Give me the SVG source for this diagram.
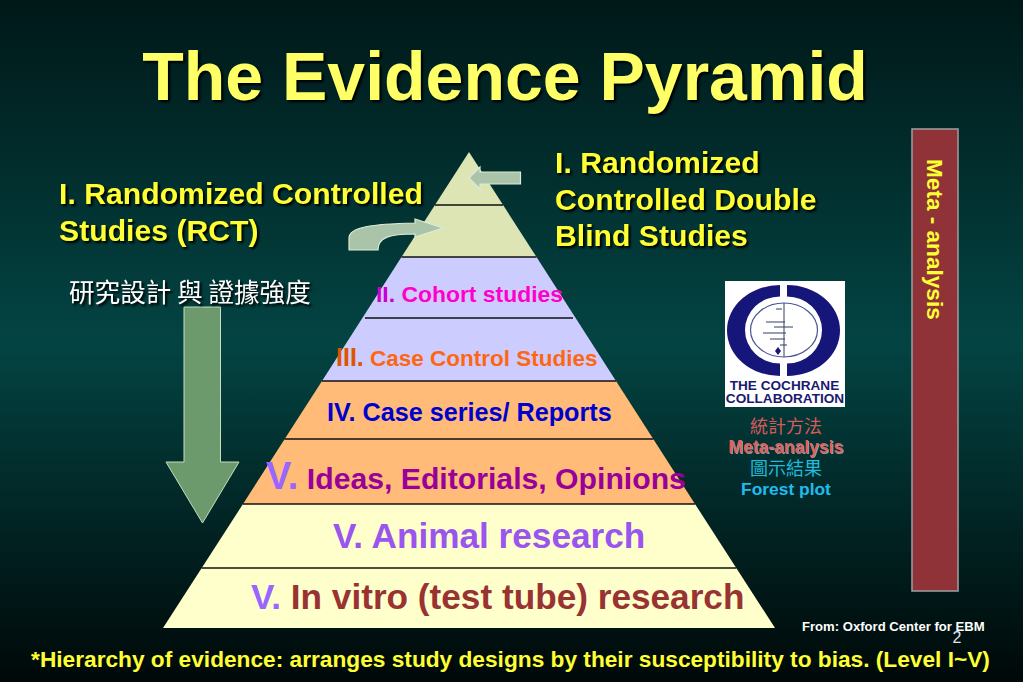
<svg xmlns="http://www.w3.org/2000/svg" width="1023" height="682" viewBox="0 0 1023 682">
<defs>
<linearGradient id="bg" x1="0" y1="0" x2="0" y2="1">
<stop offset="0" stop-color="#001818"/>
<stop offset="0.5" stop-color="#034443"/>
<stop offset="1" stop-color="#000808"/>
</linearGradient>
</defs>
<style>
text{font-family:"Liberation Sans",Arial,"Noto Sans CJK TC",sans-serif;font-weight:700}
.sh{filter:drop-shadow(2px 2px 1px #000)}
.y{fill:#ffff33}
.div{stroke:#111;stroke-width:1.3;fill:none}
.arr{fill:#a9c4a9;stroke:#dcebd8;stroke-width:1.2}
.cn{font-family:"Noto Sans CJK TC","Liberation Sans",sans-serif;font-weight:400}
</style>
<rect id="background" width="1023" height="682" fill="url(#bg)"/>
<g id="title"><text class="sh" x="505" y="100" font-size="68" fill="#ffff66" text-anchor="middle">The Evidence Pyramid</text></g>
<g id="pyramid">
<polygon id="tier-rct" points="469,152 401.5,257 536.5,257" fill="#dde5b4"/>
<polygon id="tier-cohort" points="401.5,257 536.5,257 616,381 322,381" fill="#ccccff"/>
<polygon id="tier-case" points="322,381 616,381 695,504 243,504" fill="#ffbb77"/>
<polygon id="tier-other" points="243,504 695,504 775,628 163,628" fill="#ffffcc"/>
</g>
<g id="connectors">
<path class="div" d="M435 205H503M401.5 257H536.5M365 318H573M322 381H616M284.500 439H653.500M243 504H695M201.500 568H736.500"/>
</g>
<g id="arrow-double-blind"><polygon class="arr" points="469,178 480,167 480,172 520.500,172 520.500,184 480,184 480,189"/></g>
<g id="arrow-rct"><path class="arr" d="M349 250V238C349 227 372 224 415 223V219L443 228L415 237V234C390 234 378 237 378 250Z"/></g>
<g id="arrow-strength"><polygon points="184,307 220.500,307 220.500,462 239,462 202.500,523 166,462 184,462" fill="#6d9a6d" stroke="#c8dcc0" stroke-width="1"/></g>
<g id="label-rct"><text class="y sh" font-size="30.200"><tspan x="59" y="204">I. Randomized Controlled</tspan><tspan x="59" y="241">Studies (RCT)</tspan></text></g>
<g id="label-double-blind"><text class="y sh" font-size="30.200"><tspan x="555" y="173">I. Randomized</tspan><tspan x="555" y="210">Controlled Double</tspan><tspan x="555" y="246">Blind Studies</tspan></text></g>
<g id="label-design"><text class="cn sh" x="69" y="302" font-size="25.600" fill="#fff">研究設計 與 證據強度</text></g>
<g id="label-cohort"><text x="376" y="302" font-size="22.900" fill="#ff00cc"><tspan fill="#cc00cc">II.</tspan> Cohort studies</text></g>
<g id="label-case-control"><text x="336" y="366" font-size="22.500" fill="#ff6611"><tspan font-size="25" fill="#dd5500">III.</tspan> Case Control Studies</text></g>
<g id="label-case-series"><text x="327" y="421" font-size="25.200" fill="#0000cc">IV. Case series/ Reports</text></g>
<g id="label-ideas"><text x="266" y="489" font-size="30.200" fill="#990099"><tspan font-size="38" fill="#9966ff">V.</tspan> Ideas, Editorials, Opinions</text></g>
<g id="label-animal"><text x="333" y="548" font-size="35.200" fill="#9955ee">V. Animal research</text></g>
<g id="label-vitro"><text x="251" y="609" font-size="35.200" fill="#993333"><tspan fill="#9966ff">V.</tspan> In vitro (test tube) research</text></g>
<g id="meta-bar">
<rect x="912" y="129" width="46" height="462" fill="#8f3338" stroke="#999" stroke-width="1.600"/>
<text class="y" transform="translate(927,159) rotate(90)" font-size="22.600">Meta - analysis</text>
</g>
<g id="cochrane-logo">
<rect x="725" y="281" width="120" height="126" fill="#fff"/>
<path d="M780 285A53 45.500 0 0 0 780 376V363.500A35 33.500 0 0 1 780 296.500Z" fill="#15157a"/>
<path d="M787 285A53 45.500 0 0 1 787 376V363.500A35 33.500 0 0 0 787 296.500Z" fill="#15157a"/>
<ellipse cx="784" cy="330" rx="33.500" ry="27" fill="none" stroke="#4a5590" stroke-width="1.200"/>
<path d="M784 303V357M776 309H782M766 322H785M774 327H793M763 333H786M770 339H785M780 345H787" stroke="#333c60" stroke-width="1" fill="none"/>
<path d="M778 347L781 351L778 355L775 351Z" fill="#15157a"/>
<g fill="#1a1a70" text-anchor="middle" font-size="13.600"><text x="784.500" y="390">THE COCHRANE</text><text x="785" y="403">COLLABORATION</text></g>
</g>
<g id="stats-labels" text-anchor="middle">
<text class="cn" x="786" y="433" font-size="18" fill="#d35a5a">統計方法</text>
<text x="786" y="453" font-size="17.500" fill="#e06060" style="filter:drop-shadow(1px 1px 0 #999)">Meta-analysis</text>
<text class="cn" x="786" y="475" font-size="18" fill="#22bbdd">圖示結果</text>
<text x="786" y="495" font-size="17.400" fill="#22bbee">Forest plot</text>
</g>
<g id="source"><text x="802" y="631" font-size="13.100" fill="#fff">From: Oxford Center for EBM</text></g>
<g id="page-number"><text x="957" y="643" font-size="16" fill="#dfe6f5" text-anchor="middle" style="font-weight:400">2</text></g>
<g id="footer"><text class="y" x="510.500" y="667" font-size="22.700" text-anchor="middle">*Hierarchy of evidence: arranges study designs by their susceptibility to bias. (Level I~V)</text></g>
</svg>
